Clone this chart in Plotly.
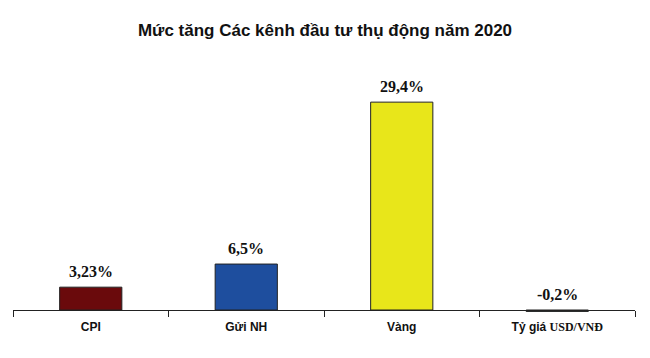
import plotly.graph_objects as go

categories = ["CPI", "Gửi NH", "Vàng", "Tỷ giá USD/VNĐ"]
tick_labels = ["<b>CPI</b>", "<b>Gửi NH</b>", "<b>Vàng</b>",
               "<b>Tỷ giá <span style='font-family:\"Liberation Serif\"'>USD/VNĐ</span></b>"]
values = [3.23, 6.5, 29.4, -0.2]
value_labels = ["3,23%", "6,5%", "29,4%", "-0,2%"]
colors = ["#6A0A0C", "#1E4E9E", "#E8E61A", "#1F4A48"]

y_min, y_max = -1.414, 35.36

fig = go.Figure()
fig.add_trace(go.Bar(
    x=categories, y=values,
    marker=dict(color=colors, line=dict(color="#222222", width=1)),
    width=0.4, hoverinfo="skip",
))

for c, v, t in zip(categories, values, value_labels):
    fig.add_annotation(
        x=c, y=max(v, 0), text="<b>" + t + "</b>", showarrow=False,
        yanchor="bottom", yshift=5,
        font=dict(family="Liberation Serif", size=16, color="#111111"),
    )

fig.update_layout(
    width=650, height=358,
    margin=dict(l=13, r=15, t=60, b=38),
    paper_bgcolor="white", plot_bgcolor="white",
    showlegend=False,
    title=dict(text="<b>Mức tăng Các kênh đầu tư thụ động năm 2020</b>",
               x=0.5, xanchor="center", y=0.915, yanchor="middle",
               font=dict(family="Liberation Sans", size=17, color="#111111")),
    xaxis=dict(
        tickmode="array", tickvals=categories, ticktext=tick_labels,
        showline=True, linecolor="#222222", linewidth=1,
        ticks="outside", tickson="boundaries", ticklen=6, tickcolor="#222222",
        tickfont=dict(family="Liberation Sans", size=12, color="#111111"),
        ticklabelstandoff=6,
        showgrid=False, zeroline=False,
        anchor="free", position=(0 - y_min) / (y_max - y_min),
    ),
    yaxis=dict(range=[y_min, y_max], visible=False, showgrid=False,
               zeroline=False),
)

fig.write_html("out.html")
